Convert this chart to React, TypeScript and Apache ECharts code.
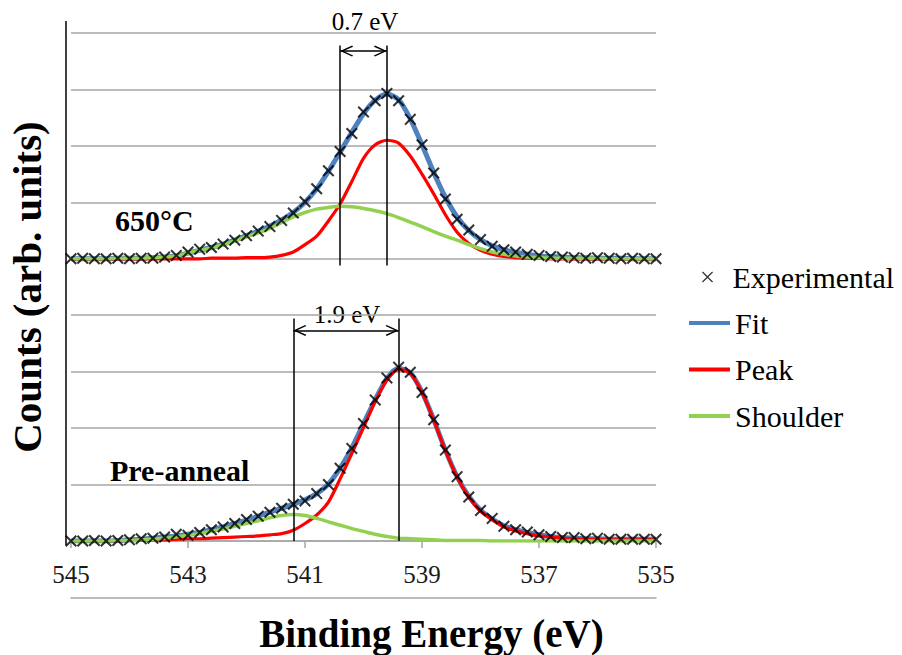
import React, { useEffect, useRef } from 'react';
import * as echarts from 'echarts';

// Binding energies of the sampled points (eV)
const ENERGY = [
  545.0, 544.8, 544.6, 544.4, 544.2, 544.0, 543.8, 543.6, 543.4, 543.2,
  543.0, 542.8, 542.6, 542.4, 542.2, 542.0, 541.8, 541.6, 541.4, 541.2,
  541.0, 540.8, 540.6, 540.4, 540.2, 540.0, 539.8, 539.6, 539.4, 539.2,
  539.0, 538.8, 538.6, 538.4, 538.2, 538.0, 537.8, 537.6, 537.4, 537.2,
  537.0, 536.8, 536.6, 536.4, 536.2, 536.0, 535.8, 535.6, 535.4, 535.2,
  535.0,
];

// 650°C spectrum (relative to its own baseline)
const TOP_EXPERIMENTAL = [
  0, 0.01, 0, 0, 0.01, 0, 0.01, 0.01, 0.03, 0.06,
  0.12, 0.17, 0.2, 0.26, 0.33, 0.41, 0.49, 0.57, 0.68, 0.81,
  1.01, 1.24, 1.56, 1.9, 2.22, 2.6, 2.8, 2.93, 2.8, 2.47,
  2.02, 1.52, 1.06, 0.7, 0.51, 0.34, 0.22, 0.16, 0.12, 0.08,
  0.06, 0.04, 0.03, 0.02, 0.01, 0.02, 0.01, 0, 0.01, 0,
  0,
];
const TOP_FIT = [
  0, 0, 0, 0, 0.01, 0.01, 0.01, 0.02, 0.03, 0.05,
  0.1, 0.15, 0.2, 0.26, 0.33, 0.41, 0.49, 0.58, 0.69, 0.82,
  1.0, 1.24, 1.55, 1.89, 2.24, 2.57, 2.81, 2.92, 2.82, 2.48,
  2.02, 1.53, 1.09, 0.74, 0.5, 0.34, 0.23, 0.16, 0.11, 0.08,
  0.05, 0.04, 0.03, 0.02, 0.02, 0.01, 0.01, 0.01, 0, 0,
  0,
];
const TOP_PEAK = [
  0, 0, 0, 0, 0, 0, 0, 0, 0, 0,
  0, 0, 0.01, 0.01, 0.01, 0.02, 0.02, 0.03, 0.06, 0.12,
  0.25, 0.4, 0.67, 0.97, 1.37, 1.78, 2.02, 2.1, 2.05, 1.82,
  1.5, 1.15, 0.78, 0.47, 0.27, 0.15, 0.08, 0.04, 0.02, 0.01,
  0.01, 0, 0, 0, 0, 0, 0, 0, 0, 0,
  0,
];
const TOP_SHOULDER = [
  0, 0, 0, 0, 0.01, 0.01, 0.01, 0.02, 0.03, 0.05,
  0.1, 0.15, 0.19, 0.25, 0.32, 0.39, 0.46, 0.54, 0.64, 0.74,
  0.82, 0.88, 0.91, 0.93, 0.92, 0.89, 0.85, 0.8, 0.73, 0.65,
  0.57, 0.48, 0.4, 0.33, 0.25, 0.18, 0.12, 0.08, 0.05, 0.03,
  0.02, 0.01, 0.01, 0.01, 0.01, 0.01, 0, 0, 0, 0,
  0,
];

// Pre-anneal spectrum
const BOTTOM_EXPERIMENTAL = [
  0, 0, 0.01, 0, 0.01, 0.02, 0.04, 0.05, 0.07, 0.12,
  0.1, 0.15, 0.2, 0.25, 0.31, 0.38, 0.44, 0.51, 0.58, 0.65,
  0.71, 0.84, 1.0, 1.29, 1.64, 2.08, 2.5, 2.89, 3.08, 2.99,
  2.63, 2.15, 1.61, 1.14, 0.78, 0.54, 0.4, 0.26, 0.2, 0.16,
  0.11, 0.08, 0.06, 0.06, 0.04, 0.05, 0.03, 0.03, 0.03, 0.03,
  0.03,
];
const BOTTOM_FIT = [
  0, 0, 0, 0, 0.01, 0.02, 0.03, 0.05, 0.07, 0.09,
  0.12, 0.15, 0.2, 0.25, 0.31, 0.37, 0.44, 0.51, 0.58, 0.65,
  0.73, 0.84, 1.01, 1.29, 1.65, 2.08, 2.5, 2.88, 3.06, 2.98,
  2.64, 2.15, 1.61, 1.14, 0.79, 0.55, 0.39, 0.27, 0.2, 0.15,
  0.11, 0.08, 0.06, 0.05, 0.04, 0.04, 0.03, 0.03, 0.03, 0.03,
  0.03,
];
const BOTTOM_PEAK = [
  0, 0, 0, 0, 0, 0.01, 0.01, 0.02, 0.02, 0.03,
  0.04, 0.04, 0.05, 0.06, 0.07, 0.08, 0.09, 0.11, 0.13, 0.19,
  0.31, 0.46, 0.69, 1.1, 1.55, 2.01, 2.47, 2.85, 3.04, 2.97,
  2.63, 2.14, 1.6, 1.13, 0.78, 0.53, 0.38, 0.25, 0.18, 0.13,
  0.09, 0.07, 0.05, 0.04, 0.03, 0.03, 0.02, 0.02, 0.02, 0.02,
  0.02,
];
const BOTTOM_SHOULDER = [
  0, 0, 0, 0, 0.01, 0.01, 0.02, 0.03, 0.05, 0.07,
  0.1, 0.13, 0.17, 0.21, 0.26, 0.31, 0.36, 0.41, 0.45, 0.47,
  0.45, 0.4, 0.34, 0.28, 0.22, 0.17, 0.12, 0.08, 0.05, 0.04,
  0.03, 0.02, 0.01, 0.01, 0.01, 0.01, 0, 0, 0, 0,
  0, 0, 0, 0, 0, 0, 0, 0, 0, 0,
  0,
];

const TOP_OFFSET = 5; // vertical offset of the 650°C spectrum
const X_TICKS = [545, 543, 541, 539, 537, 535];

// Annotation positions (eV / counts)
const TOP_SPLIT = { left: 540.4, right: 539.6, low: 4.88, high: 8.78, arrow: 8.68 };
const BOTTOM_SPLIT = { left: 541.2, right: 539.4, low: 0, high: 3.94, arrow: 3.73 };

const SERIF = 'Liberation Serif, Times New Roman, Times, serif';
const X_MARK = 'path://M0,1.2L1.2,0L5,3.8L8.8,0L10,1.2L6.2,5L10,8.8L8.8,10L5,6.2L1.2,10L0,8.8L3.8,5Z';
const X_ICON = 'path://M0,0.8L0.8,0L5,4.2L9.2,0L10,0.8L5.8,5L10,9.2L9.2,10L5,5.8L0.8,10L0,9.2L4.2,5Z';
const CHEVRON = 'path://M5,0L10,9.2L9,10L5,2.6L1,10L0,9.2Z';

const BLUE = '#4F81BD';
const RED = '#FF0000';
const GREEN = '#92D050';
const GRID_GRAY = '#a6a6a6';

function toPoints(values: number[], offset: number) {
  return ENERGY.map((e, i) => [e, values[i] + offset]);
}

function splitMarks(s: { left: number; right: number; low: number; high: number; arrow: number }) {
  const head = { symbol: CHEVRON, symbolSize: [11, 13], symbolOffset: [0, 6.5] };
  return [
    [{ coord: [s.left, s.low] }, { coord: [s.left, s.high] }],
    [{ coord: [s.right, s.low] }, { coord: [s.right, s.high] }],
    [
      { coord: [s.left, s.arrow], ...head },
      { coord: [s.right, s.arrow], ...head },
    ],
  ];
}

function lineSeries(name: string, color: string, width: number, values: number[], offset: number, extra: any = {}) {
  return {
    type: 'line',
    name,
    data: toPoints(values, offset),
    symbol: 'none',
    smooth: 0.25,
    silent: true,
    lineStyle: { color, width },
    itemStyle: { color },
    ...extra,
  };
}

function markLineOf(s: any) {
  return {
    markLine: {
      silent: true,
      symbol: 'none',
      label: { show: false },
      lineStyle: { color: '#000', width: 1.5, type: 'solid' },
      emphasis: { disabled: true },
      data: splitMarks(s),
    },
  };
}

function scatterSeries(values: number[], offset: number) {
  return {
    type: 'scatter',
    name: 'Experimental',
    data: toPoints(values, offset),
    symbol: X_MARK,
    symbolSize: 12,
    itemStyle: { color: '#000' },
    silent: true,
    z: 5,
  };
}

export default function App() {
  const ref = useRef<HTMLDivElement>(null);

  useEffect(() => {
    document.body.style.margin = '0';
    if (!ref.current) return;
    const chart = echarts.init(ref.current, undefined, { renderer: 'svg' });

    const legendText = { fontFamily: SERIF, fontSize: 30, color: '#000', lineHeight: 30 };

    const option: any = {
      animation: false,
      backgroundColor: '#fff',
      textStyle: { fontFamily: SERIF },
      grid: { left: 71, right: 246, top: 33, bottom: 114, containLabel: false, outerBoundsMode: 'none' },
      xAxis: [
        {
          type: 'value',
          min: 535,
          max: 545,
          inverse: true,
          position: 'bottom',
          name: 'Binding Energy (eV)',
          nameLocation: 'middle',
          nameGap: 73,
          nameTextStyle: {
            fontFamily: SERIF,
            fontWeight: 'bold',
            fontSize: 39,
            color: '#000',
            padding: [0, 0, 0, 136],
          },
          axisLine: { onZero: false, lineStyle: { color: GRID_GRAY, width: 1.5 } },
          axisTick: { show: true, customValues: X_TICKS, length: 7, lineStyle: { color: GRID_GRAY, width: 1.5 } },
          axisLabel: {
            customValues: X_TICKS,
            margin: 21,
            fontFamily: SERIF,
            fontSize: 25,
            color: '#1a1a1a',
          },
          splitLine: { show: false },
        },
        {
          // plain bottom rule below the tick labels
          type: 'value',
          min: 535,
          max: 545,
          position: 'bottom',
          offset: 57,
          axisLine: { onZero: false, lineStyle: { color: GRID_GRAY, width: 1.5 } },
          axisTick: { show: false },
          axisLabel: { show: false },
          splitLine: { show: false },
        },
      ],
      yAxis: {
        type: 'value',
        min: 0,
        max: 9,
        interval: 1,
        name: 'Counts (arb. units)',
        nameLocation: 'middle',
        nameGap: 24,
        nameTextStyle: { fontFamily: SERIF, fontWeight: 'bold', fontSize: 41, color: '#000' },
        axisLine: { show: false },
        axisTick: { show: false },
        axisLabel: { show: false },
        splitLine: { show: true, lineStyle: { color: GRID_GRAY, width: 1.5 } },
      },
      legend: [
        {
          data: [{ name: 'Experimental', icon: X_ICON }],
          orient: 'vertical',
          left: 702,
          top: 262,
          padding: 0,
          itemWidth: 40,
          itemHeight: 11,
          symbolKeepAspect: true,
          selectedMode: false,
          textStyle: legendText,
        },
        {
          data: [
            { name: 'Fit', icon: 'rect' },
            { name: 'Peak', icon: 'rect' },
            { name: 'Shoulder', icon: 'rect' },
          ],
          orient: 'vertical',
          left: 689,
          top: 308,
          padding: 0,
          itemWidth: 41,
          itemHeight: 4,
          itemGap: 16.5,
          selectedMode: false,
          textStyle: legendText,
        },
      ],
      series: [
        lineSeries('Fit', BLUE, 5, TOP_FIT, TOP_OFFSET, markLineOf(TOP_SPLIT)),
        lineSeries('Fit', BLUE, 5, BOTTOM_FIT, 0, markLineOf(BOTTOM_SPLIT)),
        lineSeries('Peak', RED, 3.2, TOP_PEAK, TOP_OFFSET),
        lineSeries('Peak', RED, 3.2, BOTTOM_PEAK, 0),
        lineSeries('Shoulder', GREEN, 3.5, TOP_SHOULDER, TOP_OFFSET),
        lineSeries('Shoulder', GREEN, 3.5, BOTTOM_SHOULDER, 0),
        scatterSeries(TOP_EXPERIMENTAL, TOP_OFFSET),
        scatterSeries(BOTTOM_EXPERIMENTAL, 0),
      ],
      graphic: [
        { type: 'line', shape: { x1: 66, y1: 21, x2: 66, y2: 545 }, style: { stroke: '#000', lineWidth: 1.5 }, silent: true },
        {
          type: 'text', x: 365, y: 21,
          style: { text: '0.7 eV', fontFamily: SERIF, fontSize: 25, fill: '#000', align: 'center', verticalAlign: 'middle' },
        },
        {
          type: 'text', x: 347, y: 314,
          style: { text: '1.9 eV', fontFamily: SERIF, fontSize: 25, fill: '#000', align: 'center', verticalAlign: 'middle' },
        },
        {
          type: 'text', x: 115, y: 220,
          style: { text: '650°C', fontFamily: SERIF, fontWeight: 'bold', fontSize: 30, fill: '#000', align: 'left', verticalAlign: 'middle' },
        },
        {
          type: 'text', x: 110, y: 470,
          style: { text: 'Pre-anneal', fontFamily: SERIF, fontWeight: 'bold', fontSize: 30, fill: '#000', align: 'left', verticalAlign: 'middle' },
        },
      ],
    };

    chart.setOption(option);
    return () => chart.dispose();
  }, []);

  return <div ref={ref} style={{ width: 902, height: 655 }} />;
}
